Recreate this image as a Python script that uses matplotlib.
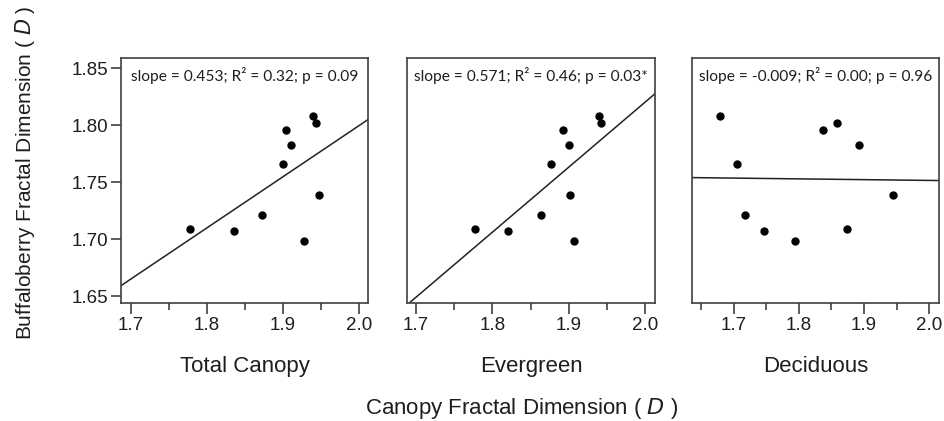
import matplotlib
matplotlib.use("Agg")
import matplotlib.pyplot as plt
from matplotlib.ticker import MultipleLocator
import numpy as np

plt.rcParams['font.family'] = ['Liberation Sans', 'DejaVu Sans']

# buffaloberry D (same points in every panel)
buffalo = [1.709, 1.707, 1.721, 1.766, 1.796, 1.783, 1.698, 1.808, 1.802, 1.739]
# canopy D per panel
total_canopy = [1.778, 1.836, 1.872, 1.900, 1.904, 1.911, 1.928, 1.939, 1.943, 1.948]
evergreen    = [1.777, 1.820, 1.864, 1.877, 1.892, 1.900, 1.907, 1.939, 1.942, 1.901]
deciduous    = [1.874, 1.746, 1.717, 1.705, 1.837, 1.892, 1.794, 1.679, 1.858, 1.944]

panel_names = ["Total Canopy", "Evergreen", "Deciduous"]
stats_text = ["slope = 0.453; R² = 0.32; p = 0.09",
              "slope = 0.571; R² = 0.46; p = 0.03*",
              "slope = -0.009; R² = 0.00; p = 0.96"]
xlims = [(1.687, 2.012), (1.688, 2.013), (1.636, 2.015)]

W, H = 944, 421
fig = plt.figure(figsize=(W / 100, H / 100), dpi=100)
lefts = [121, 407, 692]
widths = [247, 248, 247]
top, bottom = 58, 303
spine_col = "#404040"
txt_col = "#1e1e1e"

for i, xs in enumerate([total_canopy, evergreen, deciduous]):
    ax = fig.add_axes([lefts[i] / W, 1 - bottom / H, widths[i] / W, (bottom - top) / H])
    x = np.array(xs)
    y = np.array(buffalo)
    ax.plot(x, y, 'o', color='black', markersize=5, zorder=3)
    m, b = np.polyfit(x, y, 1)
    xx = np.array(xlims[i])
    ax.plot(xx, m * xx + b, color='#222222', linewidth=1.1)
    ax.set_xlim(xlims[i])
    ax.set_ylim(1.644, 1.859)
    ax.xaxis.set_major_locator(MultipleLocator(0.1))
    ax.xaxis.set_minor_locator(MultipleLocator(0.05))
    ax.yaxis.set_major_locator(MultipleLocator(0.05))
    ax.xaxis.set_major_formatter(plt.FormatStrFormatter('%.1f'))
    ax.yaxis.set_major_formatter(plt.FormatStrFormatter('%.2f'))
    ax.tick_params(axis='x', which='major', length=8, width=1.2, color=spine_col,
                   labelsize=13.5, pad=2, labelcolor=txt_col)
    ax.tick_params(axis='x', which='minor', length=5, width=1.2, color=spine_col)
    ax.tick_params(axis='y', which='major', length=7, width=1.2, color=spine_col,
                   labelsize=13.5, pad=2, labelcolor=txt_col)
    if i > 0:
        ax.tick_params(axis='y', left=False, labelleft=False)
    for s in ax.spines.values():
        s.set_color(spine_col)
        s.set_linewidth(1.2)
    ax.text(0.5, 0.93, stats_text[i], transform=ax.transAxes, ha='center', va='center',
            fontsize=11.2, family=['Lato', 'DejaVu Sans'], color=txt_col)
    cx = (lefts[i] + widths[i] / 2) / W
    fig.text(cx, 1 - 372 / H, panel_names[i], ha='center', va='baseline',
             fontsize=16, color=txt_col)

fig.text(522 / W, 1 - 414 / H, "Canopy Fractal Dimension ( $\\it{D}$ )", ha='center', va='baseline',
         fontsize=16, color=txt_col)
fig.text(25 / W, 1 - 173 / H, "Buffaloberry Fractal Dimension ( $\\it{D}$ )", ha='center', va='center',
         rotation=90, fontsize=15, color=txt_col)

fig.savefig("out.png", dpi=100)
